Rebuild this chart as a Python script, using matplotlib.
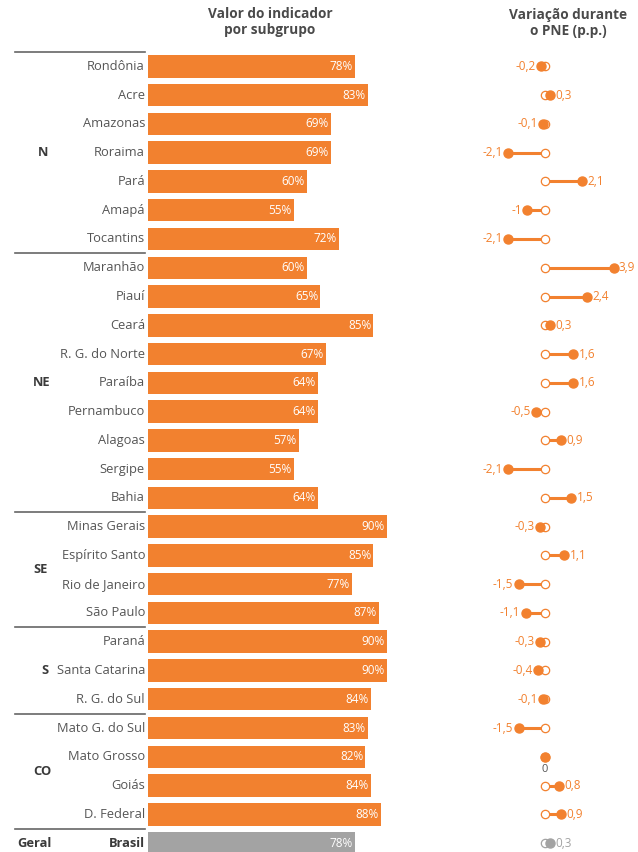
import matplotlib.pyplot as plt
import matplotlib.transforms as mtransforms
import numpy as np

plt.rcParams['font.family'] = ['Open Sans', 'DejaVu Sans']

# Data
groups = ["N", "NE", "SE", "S", "CO", "Geral"]
group_sizes = [7, 9, 4, 3, 4, 1]

states = [
    "Rondônia", "Acre", "Amazonas", "Roraima", "Pará", "Amapá", "Tocantins",
    "Maranhão", "Piauí", "Ceará", "R. G. do Norte", "Paraíba", "Pernambuco",
    "Alagoas", "Sergipe", "Bahia",
    "Minas Gerais", "Espírito Santo", "Rio de Janeiro", "São Paulo",
    "Paraná", "Santa Catarina", "R. G. do Sul",
    "Mato G. do Sul", "Mato Grosso", "Goiás", "D. Federal",
    "Brasil",
]

values = [
    78, 83, 69, 69, 60, 55, 72,
    60, 65, 85, 67, 64, 64, 57, 55, 64,
    90, 85, 77, 87,
    90, 90, 84,
    83, 82, 84, 88,
    78,
]

variation = [
    -0.2, 0.3, -0.1, -2.1, 2.1, -1.0, -2.1,
    3.9, 2.4, 0.3, 1.6, 1.6, -0.5, 0.9, -2.1, 1.5,
    -0.3, 1.1, -1.5, -1.1,
    -0.3, -0.4, -0.1,
    -1.5, 0.0, 0.8, 0.9,
    0.3,
]

orange = "#F2812F"
grey_bar = "#A3A3A3"
text_grey = "#555555"
dark = "#3A3A3A"

n = len(states)
y = np.arange(n)
colors = [orange] * (n - 1) + [grey_bar]

fig = plt.figure(figsize=(6.38, 8.52), dpi=100)
W, H = 638, 852

top_px, bot_px = 52, 852
ax = fig.add_axes([148 / W, 0, (430 - 148) / W, (bot_px - top_px) / H])
ax2 = fig.add_axes([430 / W, 0, (638 - 430) / W, (bot_px - top_px) / H], sharey=ax)

ax.set_ylim(27.31, -0.5)

# bars
ax.barh(y, values, height=0.78, color=colors)
px_per_pct = 2.65
ax.set_xlim(0, (430 - 148) / px_per_pct)
for yi, v in zip(y, values):
    ax.text(v - 0.8, yi, f"{v}%", ha="right", va="center", color="white", fontsize=8.5)

for a in (ax, ax2):
    for s in a.spines.values():
        s.set_visible(False)
    a.set_xticks([])
    a.set_yticks([])
    a.patch.set_alpha(0)

# state labels
trans = mtransforms.blended_transform_factory(fig.transFigure, ax.transData)
for yi, name in zip(y, states):
    w = "bold" if name == "Brasil" else "normal"
    c = dark if name == "Brasil" else text_grey
    fig.text(145 / W, yi, name, transform=trans, ha="right", va="center",
             fontsize=9.3, color=c, fontweight=w)

# group labels and separators
start = 0
label_x = {"N": 43, "NE": 42, "SE": 41, "S": 45, "CO": 42, "Geral": 17}
for g, size in zip(groups, group_sizes):
    ax.plot([15 / W, 145 / W], [start - 0.5, start - 0.5], transform=trans,
            color="#666666", lw=1.2, clip_on=False)
    mid = start + (size - 1) / 2
    ha = "left" if g == "Geral" else "center"
    fig.text(label_x[g] / W, mid, g, transform=trans, ha=ha, va="center",
             fontsize=9.3, fontweight="bold", color=dark)
    start += size

# dot plot for variation
zero_px = 545
px_per_pp = 17.6
ax2.set_xlim((430 - zero_px) / px_per_pp, (638 - zero_px) / px_per_pp)
for yi, v in zip(y, variation):
    c = grey_bar if yi == n - 1 else orange
    ax2.plot([0, v], [yi, yi], color=c, lw=2.2, solid_capstyle="butt", zorder=1)
    ax2.plot(0, yi, "o", ms=6, mfc="white", mec=c, mew=0.9, zorder=2)
    ax2.plot(v, yi, "o", ms=6.5, color=c, zorder=3)
    lab = f"{v:g}".replace(".", ",")
    if v > 0:
        ax2.text(v + 0.3, yi, lab, ha="left", va="center", fontsize=8.5, color=c)
    elif v < 0:
        ax2.text(v - 0.3, yi, lab, ha="right", va="center", fontsize=8.5, color=c)
    else:
        ax2.text(0, yi + 0.45, "0", ha="center", va="center", fontsize=8, color=text_grey)

# headers
fig.text(270 / W, 1 - 22 / H, "Valor do indicador\npor subgrupo", ha="center",
         va="center", fontsize=9.8, fontweight="bold", color="#4A4A4A", linespacing=1.1)
fig.text(568 / W, 1 - 23 / H, "Variação durante\no PNE (p.p.)", ha="center",
         va="center", fontsize=9.8, fontweight="bold", color="#4A4A4A", linespacing=1.1)

fig.savefig("out.png", dpi=100)
